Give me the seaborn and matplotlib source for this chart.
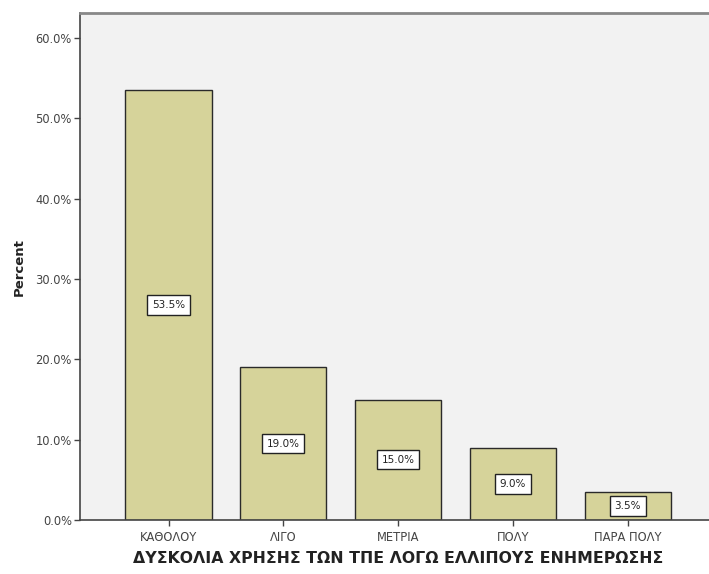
import numpy as np
import pandas as pd
from matplotlib import pyplot as plt
from matplotlib.ticker import FuncFormatter
import seaborn as sns

sns.set_theme(style="white")
plt.rcParams['font.family'] = ['DejaVu Sans']

# data
categories = ['ΚΑΘΟΛΟΥ', 'ΛΙΓΟ', 'ΜΕΤΡΙΑ', 'ΠΟΛΥ', 'ΠΑΡΑ ΠΟΛΥ']
percent = [53.5, 19.0, 15.0, 9.0, 3.5]
bar_labels = ['53.5%', '19.0%', '15.0%', '9.0%', '3.5%']

df = pd.DataFrame({'cat': categories, 'pct': percent})

fig = plt.figure(figsize=(7.09, 5.74), dpi=100)
fig.patch.set_facecolor('white')
ax = fig.add_axes([0.113, 0.094, 0.897, 0.883])
ax.set_facecolor('#f2f2f2')

sns.barplot(data=df, x='cat', y='pct', order=categories, color='#d6d39a',
            saturation=1, width=0.75, edgecolor='#2a2a2a', linewidth=1.0, ax=ax)

# value boxes in the middle of each bar
for i, (v, lab) in enumerate(zip(percent, bar_labels)):
    ax.text(i, v / 2, lab, ha='center', va='center', fontsize=7.5, color='#222222',
            bbox=dict(boxstyle='square,pad=0.45', facecolor='white', edgecolor='#222222', linewidth=1.0))

ax.set_xlim(-0.77, 4.77)
ax.set_ylim(0, 63.1)
ax.set_yticks(np.arange(0, 61, 10))
ax.yaxis.set_major_formatter(FuncFormatter(lambda y, p: f'{y:.1f}%'))
ax.tick_params(axis='y', labelsize=8.3, colors='#444444', length=4, width=1, direction='out', left=True, pad=2)
ax.tick_params(axis='x', labelsize=8.3, colors='#444444', length=4, width=1, direction='out', bottom=True, pad=4)

for s in ['left', 'bottom', 'top']:
    ax.spines[s].set_color('#444444')
    ax.spines[s].set_linewidth(1.2)
ax.spines['top'].set_color('#888888')
ax.spines['top'].set_linewidth(2)
ax.spines['right'].set_visible(False)

ax.set_ylabel('Percent', fontsize=9.5, fontweight='bold', color='#222222', labelpad=7)
ax.set_xlabel('ΔΥΣΚΟΛΙΑ ΧΡΗΣΗΣ ΤΩΝ ΤΠΕ ΛΟΓΩ ΕΛΛΙΠΟΥΣ ΕΝΗΜΕΡΩΣΗΣ', fontsize=11.3,
              fontweight='bold', color='#222222', labelpad=5)

fig.savefig('out.png', dpi=100)
